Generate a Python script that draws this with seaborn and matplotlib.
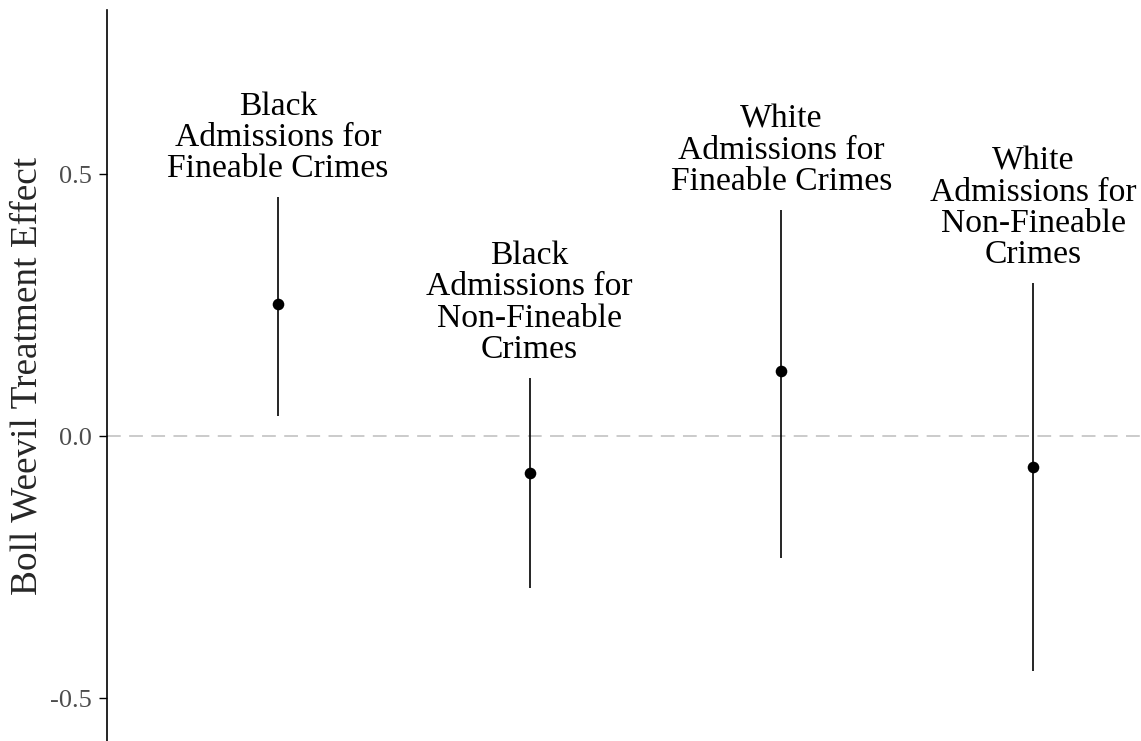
import matplotlib
matplotlib.use("Agg")
import matplotlib.pyplot as plt
import seaborn as sns
import pandas as pd

categories = [
    "Black\nAdmissions for\nFineable Crimes",
    "Black\nAdmissions for\nNon-Fineable\nCrimes",
    "White\nAdmissions for\nFineable Crimes",
    "White\nAdmissions for\nNon-Fineable\nCrimes",
]
estimates = [0.252, -0.071, 0.124, -0.059]
ci_low = [0.038, -0.290, -0.233, -0.448]
ci_high = [0.456, 0.111, 0.431, 0.292]
yticks = [-0.5, 0.0, 0.5]
ytick_labels = ["-0.5", "0.0", "0.5"]

sns.set_theme(style="white")
plt.rcParams['font.family'] = ['Liberation Serif', 'DejaVu Serif']

df = pd.DataFrame({"pos": range(len(categories)), "est": estimates,
                   "lo": ci_low, "hi": ci_high, "label": categories})

fig = plt.figure(figsize=(11.41, 7.41), dpi=100)
ax = fig.add_axes([107/1141, 0.0, (1141-107)/1141, (741-10)/741])

ax.axhline(0, color="#bdbdbd", lw=1.1, dashes=(9, 5.5), zorder=0)
ax.vlines(df["pos"], df["lo"], df["hi"], color="black", lw=1.2)
sns.scatterplot(data=df, x="pos", y="est", ax=ax, color="black", s=70,
                edgecolor="black", linewidth=0, zorder=3, legend=False)

for _, r in df.iterrows():
    ax.text(r["pos"], r["hi"] + 0.025, r["label"], ha="center", va="bottom",
            fontsize=24.2, linespacing=1.03, color="black")

ax.set_xlim(-0.679, 3.429)
ax.set_ylim(-0.582, 0.813)
ax.set_xticks([])
ax.set_yticks(yticks)
ax.set_yticklabels(ytick_labels, fontsize=19, color="#4d4d4d")
ax.tick_params(axis="y", left=True, length=6, width=1, color="black", pad=5)
ax.set_xlabel("")
ax.set_ylabel("Boll Weevil Treatment Effect", fontsize=26.8)
ax.yaxis.set_label_coords(-0.060, 0.5)
for s in ["top", "right", "bottom"]:
    ax.spines[s].set_visible(False)
ax.spines["left"].set_color("black")
ax.spines["left"].set_linewidth(1.2)

fig.savefig("out.png", dpi=100)
